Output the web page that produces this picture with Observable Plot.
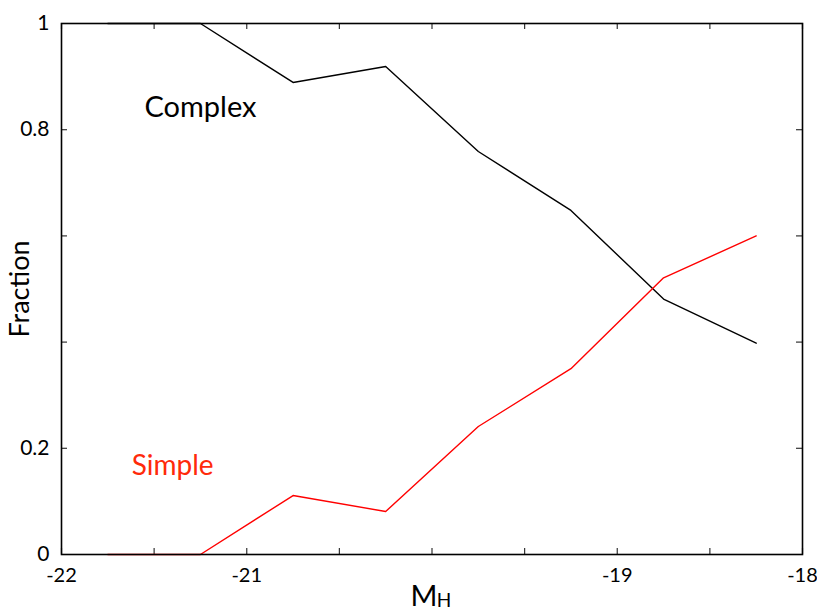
<!DOCTYPE html>
<html>
<head>
<meta charset="utf-8">
<script src="https://cdn.jsdelivr.net/npm/d3@7"></script>
<script src="https://cdn.jsdelivr.net/npm/@observablehq/plot@0.6"></script>
<style>
  html, body { margin: 0; padding: 0; background: #fff; }
</style>
</head>
<body>
<div id="chart"></div>
<script>
// Data
const magnitudes = [-21.75, -21.25, -20.75, -20.25, -19.75, -19.25, -18.75, -18.25];
const complexFrac = [1.0, 1.0, 0.889, 0.919, 0.759, 0.648, 0.481, 0.398];
const simpleFrac  = [0.0, 0.0, 0.111, 0.081, 0.241, 0.350, 0.521, 0.600];

const xTickValues = [-22, -21.5, -21, -20.5, -20, -19.5, -19, -18.5, -18];
const xTickLabels = [-22, -21, -19, -18];
const yTickValues = [0.2, 0.4, 0.6, 0.8];
const yTickLabels = [0, 0.2, 0.8, 1];

const W = 817, H = 612;
const mL = 61, mR = 15, mT = 23, mB = 58;
const plotW = W - mL - mR, plotH = H - mT - mB;
const tickLen = 6;

const complexData = magnitudes.map((x, i) => ({x, y: complexFrac[i]}));
const simpleData = magnitudes.map((x, i) => ({x, y: simpleFrac[i]}));

const font = "Lato, 'Open Sans', sans-serif";

const chart = Plot.plot({
  width: W,
  height: H,
  marginLeft: mL,
  marginRight: mR,
  marginTop: mT,
  marginBottom: mB,
  style: {fontFamily: font, background: "#fff", color: "#000"},
  x: {domain: [-22, -18]},
  y: {domain: [0, 1]},
  marks: [
    // tick labels
    Plot.axisX(xTickLabels, {anchor: "bottom", tickSize: 0, tickPadding: 13, fontSize: 20, label: null, tickFormat: d => `${d}`}),
    Plot.axisY(yTickLabels, {anchor: "left", tickSize: 0, tickPadding: 12, fontSize: 21, label: null, tickFormat: d => `${d}`}),
    // inward ticks on all four sides
    Plot.tickX(xTickValues, {stroke: "#333", strokeWidth: 1.2, insetTop: plotH - tickLen}),
    Plot.tickX(xTickValues, {stroke: "#333", strokeWidth: 1.2, insetBottom: plotH - tickLen}),
    Plot.tickY(yTickValues, {stroke: "#333", strokeWidth: 1.2, insetRight: plotW - tickLen}),
    Plot.tickY(yTickValues, {stroke: "#333", strokeWidth: 1.2, insetLeft: plotW - tickLen}),
    // data lines
    Plot.line(complexData, {x: "x", y: "y", stroke: "#000", strokeWidth: 1.4}),
    Plot.line(simpleData, {x: "x", y: "y", stroke: "#ff0000", strokeWidth: 1.4}),
    // series labels
    Plot.text(["Complex"], {x: -21.25, y: 0.842, fontSize: 29, fill: "#000"}),
    Plot.text(["Simple"], {x: -21.40, y: 0.167, fontSize: 28, fill: "#ff2a0a"}),
    // axis titles
    Plot.text(["Fraction"], {frameAnchor: "left", dx: -41, rotate: -90, textAnchor: "middle", lineAnchor: "middle", fontSize: 27, fill: "#000"}),
    Plot.text(["M"], {frameAnchor: "bottom", textAnchor: "middle", lineAnchor: "middle", dx: -8, dy: 42, fontSize: 29, fill: "#000"}),
    Plot.text(["H"], {frameAnchor: "bottom", textAnchor: "middle", lineAnchor: "middle", dx: 12, dy: 46, fontSize: 19, fill: "#000"}),
    // frame
    Plot.frame({stroke: "#000", strokeWidth: 1.6})
  ]
});

document.getElementById("chart").appendChild(chart);
</script>
</body>
</html>
